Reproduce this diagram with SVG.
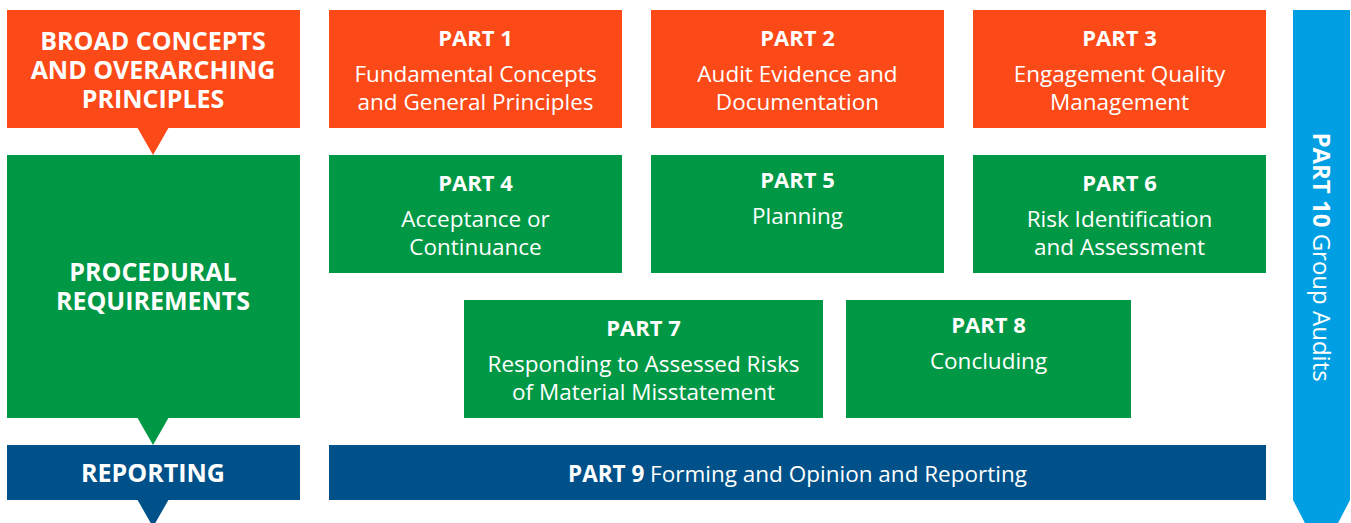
<svg xmlns="http://www.w3.org/2000/svg" width="1351" height="523" viewBox="0 0 1351 523">
<style>
.t{font-family:"Open Sans","Liberation Sans",sans-serif;fill:#fff;text-anchor:middle}
.h{font-weight:bold;font-size:22px}
.b{font-size:22.5px}
.L{font-weight:bold;font-size:25px}
.or{fill:#FB4A18}
.gr{fill:#009845}
.nv{fill:#005189}
.lb{fill:#009FE3}
</style>
<rect width="1351" height="523" fill="#fff"/>
<g id="broad">
<rect class="or" x="7" y="10" width="293" height="118"/>
<polygon class="or" points="137,127 169,127 153,155"/>
<text class="t L" x="153" y="50">BROAD CONCEPTS</text>
<text class="t L" x="153" y="79">AND OVERARCHING</text>
<text class="t L" x="153" y="108">PRINCIPLES</text>
</g>
<g id="procedural">
<rect class="gr" x="7" y="155" width="293" height="263"/>
<polygon class="gr" points="137,417 169,417 153,445"/>
<text class="t L" x="153" y="281">PROCEDURAL</text>
<text class="t L" x="153" y="310">REQUIREMENTS</text>
</g>
<g id="reporting">
<rect class="nv" x="7" y="445" width="293" height="55"/>
<polygon class="nv" points="137,499 169,499 153,527"/>
<text class="t L" x="153" y="482">REPORTING</text>
</g>
<g id="part1">
<rect class="or" x="329" y="10" width="293" height="118"/>
<text class="t h" x="475.5" y="46">PART 1</text>
<text class="t b" x="475.5" y="82">Fundamental Concepts</text>
<text class="t b" x="475.5" y="110">and General Principles</text>
</g>
<g id="part2">
<rect class="or" x="651" y="10" width="293" height="118"/>
<text class="t h" x="797.5" y="46">PART 2</text>
<text class="t b" x="797.5" y="82">Audit Evidence and</text>
<text class="t b" x="797.5" y="110">Documentation</text>
</g>
<g id="part3">
<rect class="or" x="973" y="10" width="293" height="118"/>
<text class="t h" x="1119.5" y="46">PART 3</text>
<text class="t b" x="1119.5" y="82">Engagement Quality</text>
<text class="t b" x="1119.5" y="110">Management</text>
</g>
<g id="part4">
<rect class="gr" x="329" y="155" width="293" height="118"/>
<text class="t h" x="475.5" y="191">PART 4</text>
<text class="t b" x="475.5" y="227">Acceptance or</text>
<text class="t b" x="475.5" y="255">Continuance</text>
</g>
<g id="part5">
<rect class="gr" x="651" y="155" width="293" height="118"/>
<text class="t h" x="797.5" y="188">PART 5</text>
<text class="t b" x="797.5" y="224">Planning</text>
</g>
<g id="part6">
<rect class="gr" x="973" y="155" width="293" height="118"/>
<text class="t h" x="1119.5" y="191">PART 6</text>
<text class="t b" x="1119.5" y="227">Risk Identification</text>
<text class="t b" x="1119.5" y="255">and Assessment</text>
</g>
<g id="part7">
<rect class="gr" x="464" y="300" width="359" height="118"/>
<text class="t h" x="643.5" y="336">PART 7</text>
<text class="t b" x="643.5" y="372">Responding to Assessed Risks</text>
<text class="t b" x="643.5" y="400">of Material Misstatement</text>
</g>
<g id="part8">
<rect class="gr" x="846" y="300" width="285" height="118"/>
<text class="t h" x="988.5" y="333">PART 8</text>
<text class="t b" x="988.5" y="369">Concluding</text>
</g>
<g id="part9">
<rect class="nv" x="329" y="445" width="937" height="55"/>
<text class="t b" x="797.5" y="482"><tspan font-weight="bold">PART 9</tspan> Forming and Opinion and Reporting</text>
</g>
<g id="part10">
<polygon class="lb" points="1293,10 1350,10 1350,500 1321.5,555 1293,500"/>
<text class="t" font-size="24" x="0" y="0" transform="translate(1313,257) rotate(90)"><tspan font-weight="bold">PART 10</tspan> Group Audits</text>
</g>
<g id="connectors"></g>
</svg>
